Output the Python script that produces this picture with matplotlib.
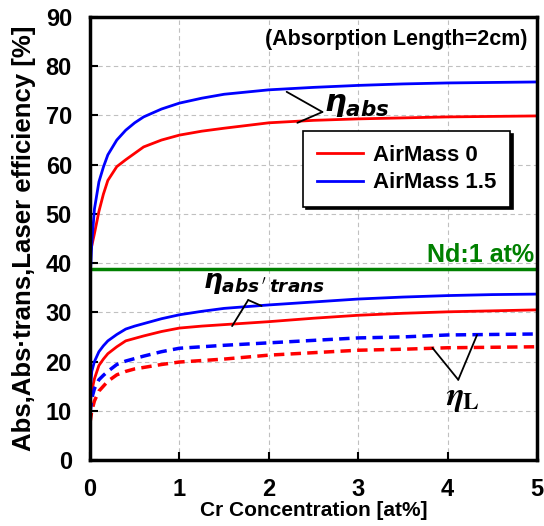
import matplotlib
matplotlib.use("Agg")
from matplotlib import pyplot as plt

plt.rcParams['font.family'] = ['Liberation Sans', 'DejaVu Sans']
plt.rcParams['font.weight'] = 'bold'

# Cr concentration [at%]
cr = [0, 0.02, 0.05, 0.1, 0.15, 0.2, 0.3, 0.4, 0.5, 0.6, 0.8, 1.0,
      1.25, 1.5, 2.0, 2.5, 3.0, 3.5, 4.0, 4.5, 5.0]

# absorption efficiency
abs_am15 = [36, 44, 51, 56.5, 59.5, 62, 65, 67, 68.5, 69.7, 71.3, 72.5,
            73.5, 74.3, 75.2, 75.7, 76.1, 76.4, 76.6, 76.7, 76.8]
abs_am0 = [42, 43.5, 46, 50.5, 54, 56.8, 59.6, 61, 62.3, 63.6, 65, 66,
           66.8, 67.4, 68.5, 69, 69.3, 69.5, 69.7, 69.8, 69.9]

# abs * trans
abstr_am15 = [13.5, 18, 20, 22, 23.2, 24.2, 25.5, 26.6, 27.2, 27.7, 28.7, 29.5,
              30.2, 30.8, 31.5, 32.1, 32.7, 33.1, 33.4, 33.6, 33.7]
abstr_am0 = [11.5, 14, 16.5, 19.2, 20.5, 21.6, 23, 24.2, 24.7, 25.2, 26.1, 26.8,
             27.2, 27.5, 28.1, 28.8, 29.4, 29.8, 30.1, 30.3, 30.5]

# laser efficiency
las_am15 = [9.5, 12.5, 14.5, 16.3, 17.2, 18, 19.4, 20.1, 20.6, 21.1, 22, 22.7,
            23, 23.3, 23.8, 24.3, 24.8, 25, 25.4, 25.5, 25.6]
las_am0 = [7.5, 10, 12, 14, 15, 16, 17.3, 18, 18.5, 18.8, 19.4, 19.9,
           20.2, 20.5, 21.3, 21.8, 22.3, 22.5, 22.8, 22.9, 23.0]

nd_level = 38.7

fig = plt.figure(figsize=(5.44, 5.26), dpi=100)
ax = fig.add_axes([0.1654, 0.1255, 0.8216, 0.8422])

red = '#ff0000'
blue = '#0000ff'
ax.plot(cr, abs_am0, color=red, lw=2, label='AirMass 0')
ax.plot(cr, abs_am15, color=blue, lw=2, label='AirMass 1.5')
ax.plot(cr, abstr_am0, color=red, lw=2)
ax.plot(cr, abstr_am15, color=blue, lw=2)
ax.plot(cr, las_am0, color=red, lw=2.5, ls=(0, (3, 1.8)))
ax.plot(cr, las_am15, color=blue, lw=2.5, ls=(0, (3, 1.8)))
ax.axhline(nd_level, color='#008000', lw=2.5)

ax.set_xlim(0, 5)
ax.set_ylim(0, 90)
ax.set_xticks(range(0, 6))
ax.set_yticks(range(0, 91, 10))
ax.grid(True, ls=(0, (4, 3)), color='#c0c0c0', lw=0.8)
ax.tick_params(direction='in', length=6, width=1.5, labelsize=17)
ax.tick_params(axis='x', pad=13)
ax.tick_params(axis='y', pad=13)
for lab in ax.get_xticklabels() + ax.get_yticklabels():
    lab.set_fontweight('bold')
for s in ax.spines.values():
    s.set_linewidth(2.5)

ax.set_xlabel('Cr Concentration [at%]', fontsize=15, fontweight='bold', labelpad=0)
ax.set_ylabel('Abs,Abs\u00b7trans,Laser efficiency [%]', fontsize=18.5,
              fontweight='bold', labelpad=7)

ax.text(0.978, 0.95, '(Absorption Length=2cm)', transform=ax.transAxes,
        ha='right', va='center', fontsize=15.5, fontweight='bold')
ax.text(4.97, nd_level + 0.5, 'Nd:1 at%', color='#008000', ha='right',
        va='bottom', fontsize=18, fontweight='bold')

leg = ax.legend(loc='upper left', bbox_to_anchor=(0.477, 0.742), fontsize=16,
                handlelength=2.1, handletextpad=0.45, fancybox=False,
                edgecolor='k', framealpha=1, borderaxespad=0,
                shadow={'color': 'k', 'alpha': 1}, borderpad=0.6,
                labelspacing=0.3)
leg.get_frame().set_linewidth(1.2)
for t in leg.get_texts():
    t.set_fontweight('bold')

# leader lines and labels
line_kw = dict(arrowstyle='-', color='k', lw=1.3, shrinkA=0, shrinkB=0)
ax.annotate('', xy=(2.2, 74.8), xytext=(2.6, 70.7), arrowprops=line_kw)
ax.annotate('', xy=(2.32, 68.5), xytext=(2.6, 70.7), arrowprops=line_kw)
ax.text(2.62, 72.3, r'$\eta_{\mathbfit{abs}}$', fontsize=22, ha='left', va='center')

ax.annotate('', xy=(1.92, 31.3), xytext=(1.77, 32.5), arrowprops=line_kw)
ax.annotate('', xy=(1.59, 27.2), xytext=(1.77, 32.5), arrowprops=line_kw)
ax.text(1.26, 35.8, r"$\eta_{\mathbfit{abs}\,'\,\mathbfit{trans}}$", fontsize=19,
        ha='left', va='center')

ax.annotate('', xy=(3.83, 22.8), xytext=(4.12, 16.3), arrowprops=line_kw)
ax.annotate('', xy=(4.33, 25.4), xytext=(4.12, 16.3), arrowprops=line_kw)
ax.text(3.98, 12.5, r'$\eta_{\mathbf{L}}$', fontsize=24, ha='left', va='center',
        math_fontfamily='stix')

fig.savefig('out.png', dpi=100)
